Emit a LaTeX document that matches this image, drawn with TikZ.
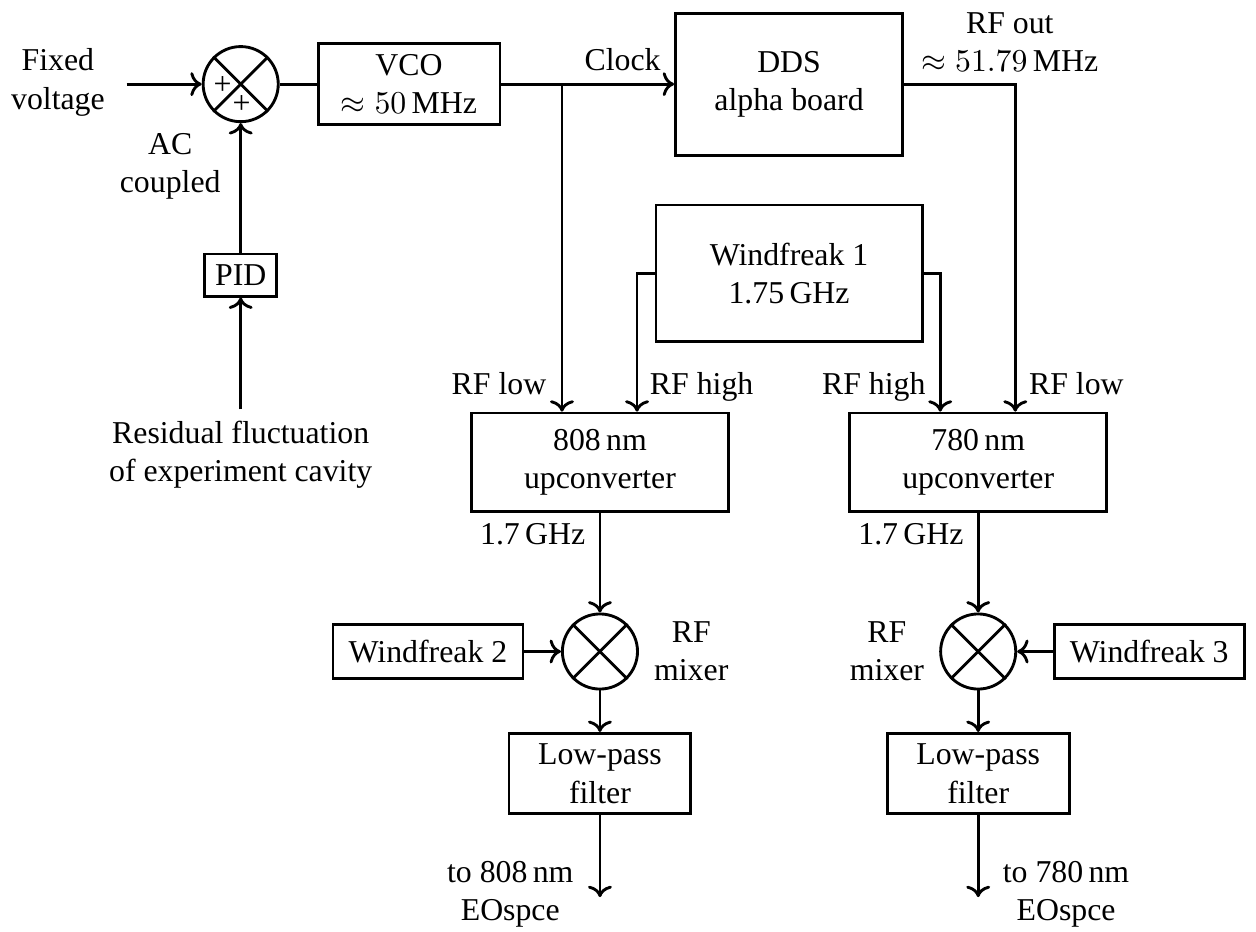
\documentclass[tikz,border=0pt]{standalone}
\usepackage{fontspec}
\setmainfont{Liberation Serif}
\usetikzlibrary{arrows.meta,positioning,calc}

\begin{document}
\begin{tikzpicture}[line width=0.9pt,
  blk/.style={draw,align=center},
  mixer/.style={draw,circle,minimum size=0.83cm,inner sep=0pt},
  sig/.style={->},
  lbl/.style={align=center}
]
  \useasboundingbox (0,0) rectangle (13.88,10.29);
  % Feedback loop
  \node[mixer] (sum) at (2.66,9.36) {};
  \node[inner sep=0pt] (plusa) at ($(sum)+(-0.2,-0.02)$) {+};
  \node[inner sep=0pt] (plusb) at ($(sum)+(0.01,-0.23)$) {+};
  \node[lbl] (fixv) at (0.64,9.38) {Fixed\\voltage};
  \coordinate (fixin) at (1.40,9.36);
  \node[lbl,anchor=east] (accpl) at (2.57,8.45) {AC\\coupled};
  \node[blk] (pid) at (2.66,7.25) {PID};
  \node[lbl] (resid) at (2.66,5.26) {Residual fluctuation\\of experiment cavity};
  % Oscillators
  \node[blk,minimum width=2.01cm] (vco) at (4.52,9.36) {VCO\\$\approx 50$\,MHz};
  \node[blk,minimum width=2.51cm,minimum height=1.57cm] (dds) at (8.72,9.36) {DDS\\alpha board};
  \node[blk,minimum width=2.94cm,minimum height=1.51cm] (wf1) at (8.72,7.27) {Windfreak 1\\1.75\,GHz};
  \coordinate (clk) at (6.21,9.36);
  \node[anchor=south] (clklbl) at (6.88,9.37) {Clock};
  \node[lbl,anchor=south] (rfout) at (11.16,9.37) {RF out\\$\approx 51.79$\,MHz};
  % Upconverters
  \node[blk,minimum width=2.84cm,minimum height=1.09cm] (up808) at (6.63,5.18) {808\,nm\\upconverter};
  \node[blk,minimum width=2.84cm,minimum height=1.09cm] (up780) at (10.81,5.18) {780\,nm\\upconverter};
  \node[anchor=base east] (lo808) at (6.17,5.93) {RF low};
  \node[anchor=base west] (hi808) at (7.05,5.93) {RF high};
  \node[anchor=base east] (hi780) at (10.36,5.93) {RF high};
  \node[anchor=base west] (lo780) at (11.24,5.93) {RF low};
  \node[anchor=base east] (ghzl) at (6.60,4.27) {1.7\,GHz};
  \node[anchor=base east] (ghzr) at (10.78,4.27) {1.7\,GHz};
  % Mixers and filters
  \node[mixer] (mixl) at (6.63,3.09) {};
  \node[mixer] (mixr) at (10.81,3.09) {};
  \foreach \m in {sum,mixl,mixr} {
    \draw (\m.north west) -- (\m.south east);
    \draw (\m.north east) -- (\m.south west);
  }
  \node[lbl,right=1pt of mixl] (rfmixl) {RF\\mixer};
  \node[lbl,left=1pt of mixr] (rfmixr) {RF\\mixer};
  \node[blk,minimum width=2.10cm,minimum height=0.59cm] (wf2) at (4.73,3.09) {Windfreak 2};
  \node[blk,minimum width=2.10cm,minimum height=0.59cm] (wf3) at (12.70,3.09) {Windfreak 3};
  \node[blk,minimum width=2.01cm] (lpl) at (6.63,1.74) {Low-pass\\filter};
  \node[blk,minimum width=2.01cm] (lpr) at (10.81,1.74) {Low-pass\\filter};
  \coordinate (outl) at (6.63,0.376);
  \coordinate (outr) at (10.81,0.376);
  \node[lbl,anchor=east] (tol) at (6.47,0.41) {to 808\,nm\\EOspce};
  \node[lbl,anchor=west] (tor) at (10.95,0.41) {to 780\,nm\\EOspce};
  % Connections
  \draw[sig] (fixin) -- (sum);
  \draw (sum) -- (vco);
  \draw[sig] (pid) -- (sum);
  \draw[sig] (resid.north) -- (pid.south);
  \draw[sig] (vco) -- (dds);
  \draw[sig] (clk) -- (clk |- up808.north);
  \draw[sig] (dds.east) -| ([xshift=0.41cm]up780.north);
  \draw[sig] (wf1.west) -| ([xshift=0.41cm]up808.north);
  \draw[sig] (wf1.east) -| ([xshift=-0.42cm]up780.north);
  \draw[sig] (up808) -- (mixl);
  \draw[sig] (up780) -- (mixr);
  \draw[sig] (wf2) -- (mixl);
  \draw[sig] (wf3) -- (mixr);
  \draw[sig] (mixl) -- (lpl);
  \draw[sig] (mixr) -- (lpr);
  \draw[sig] (lpl) -- (outl);
  \draw[sig] (lpr) -- (outr);
\end{tikzpicture}
\end{document}
